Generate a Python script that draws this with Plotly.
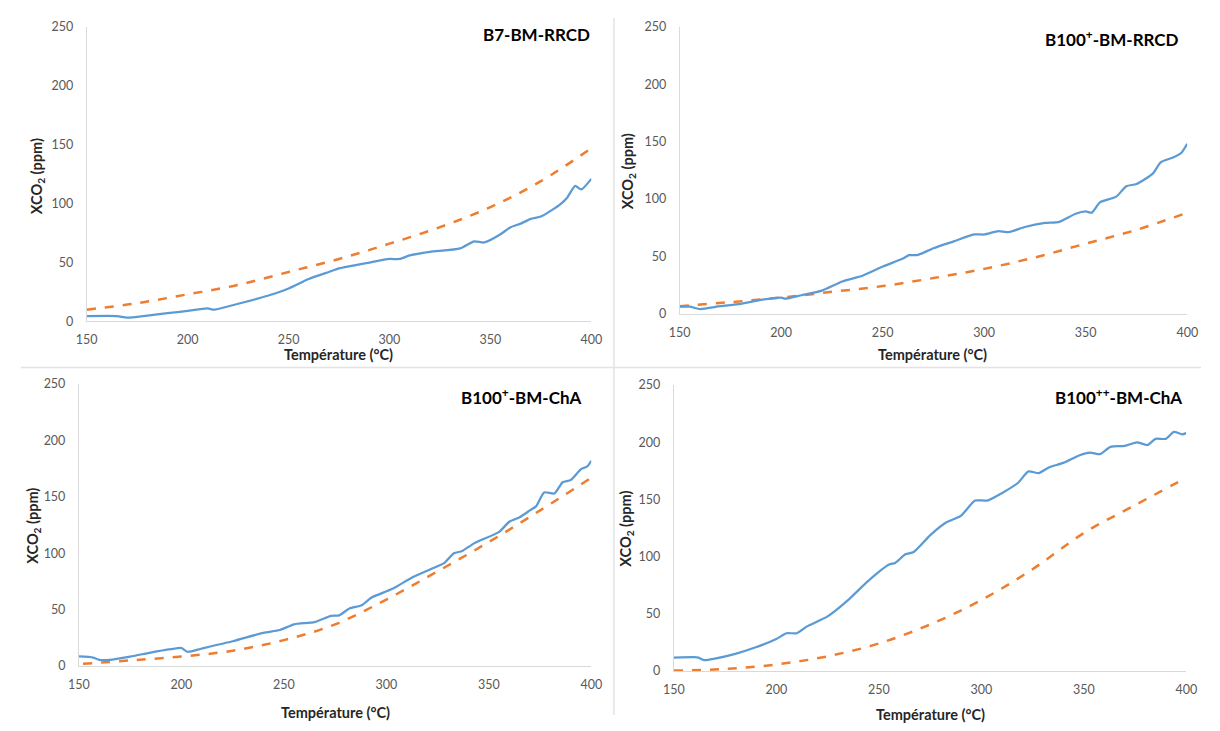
import plotly.graph_objects as go

# ---------------- data ----------------
# Panel 1: B7-BM-RRCD
p1_blue_x = [150, 165, 170, 180, 190, 200, 210, 213, 225, 240, 250, 260, 270, 275, 290, 300, 305, 310, 320, 335, 342, 347, 355, 360, 365, 370, 375, 380, 385, 388, 392, 395, 400]
p1_blue_y = [4.5, 4.5, 3.2, 5, 7, 9, 11, 10, 15, 22, 28, 36, 42, 45, 50, 53, 53, 56, 59, 62, 68, 67, 74, 80, 83, 87, 89, 94, 100, 105, 115, 112, 121]
p1_orange_x = [150, 175, 200, 225, 250, 275, 300, 325, 350, 375, 400]
p1_orange_y = [10, 15.5, 23, 31, 42, 53, 66, 80, 97, 119, 147]

# Panel 2: B100+-BM-RRCD
p2_blue_x = [150, 155, 160, 170, 180, 190, 200, 202, 210, 220, 230, 240, 250, 260, 263, 267, 275, 285, 295, 300, 307, 312, 320, 330, 337, 345, 350, 353, 357, 365, 370, 375, 383, 387, 393, 397, 400]
p2_blue_y = [6, 6, 4, 6.5, 8.5, 12, 14, 13, 16, 20, 28, 33, 41, 48, 51, 51, 57, 63, 69, 69, 72, 71, 75.5, 79, 80, 87, 89, 88, 97, 102, 111, 113, 122, 132, 136, 140, 148]
p2_orange_x = [150, 175, 200, 225, 250, 275, 300, 325, 350, 375, 400]
p2_orange_y = [6.5, 10, 14, 19, 24, 31, 39, 49, 61, 73, 88]

# Panel 3: B100+-BM-ChA
p3_blue_x = [150, 157, 160, 165, 175, 185, 195, 200, 203, 210, 225, 240, 248, 255, 265, 273, 277, 282, 288, 293, 303, 313, 323, 328, 333, 337, 343, 355, 360, 365, 370, 373, 377, 382, 386, 390, 395, 398, 400]
p3_blue_y = [8.5, 7.5, 5.5, 5.5, 8.4, 12, 15, 16, 12.7, 15.6, 22, 29.5, 32, 37, 39, 44.5, 45, 51, 54, 61, 68.5, 79, 87, 91, 100, 102, 109, 119, 128, 132, 138, 141.6, 154, 153, 163, 165, 174.6, 177, 182]
p3_orange_x = [152, 175, 200, 225, 250, 275, 300, 325, 350, 375, 400]
p3_orange_y = [2, 5, 8.4, 13.6, 23, 37, 59, 84, 110, 138, 167]

# Panel 4: B100++-BM-ChA
p4_blue_x = [150, 160, 162, 165, 170, 180, 190, 200, 205, 210, 215, 225, 235, 245, 255, 258, 263, 267, 275, 283, 290, 297, 303, 310, 318, 323, 328, 333, 340, 348, 353, 358, 363, 370, 376, 381, 385, 390, 394, 398, 400]
p4_blue_y = [11.6, 12, 11.6, 9.4, 10.8, 15, 20.7, 28, 33, 33, 39, 47.7, 62, 79, 93, 94.5, 102, 104, 118.6, 130, 135.6, 149, 149, 155.5, 164.6, 174.5, 173, 178, 182, 188.7, 191, 189.6, 196, 196.8, 200, 197.6, 203, 203, 209, 207, 208]
p4_orange_x = [150, 175, 200, 225, 250, 275, 300, 325, 350, 375, 400]
p4_orange_y = [0.3, 1.7, 5.7, 12.8, 24, 40.6, 62, 89, 120.6, 145, 169]

titles = ["B7-BM-RRCD", "B100<sup>+</sup>-BM-RRCD", "B100<sup>+</sup>-BM-ChA", "B100<sup>++</sup>-BM-ChA"]
x_ticks = [150, 200, 250, 300, 350, 400]
y_ticks = [0, 50, 100, 150, 200, 250]

# ---------------- layout geometry ----------------
# The page body keeps its default 8 px margin, so the figure is drawn 16 px
# smaller and every reference pixel position is shifted by OFF.
OFF = 8
W, H = 1220 - 2 * OFF, 731 - 2 * OFF
# (x_left_px, x_right_px, y_bottom_px, y_top_px) in reference pixels
boxes = [(77, 591, 320, 19), (681, 1198, 312, 19), (69, 591, 672, 384), (675, 1197, 677, 385)]
title_pos = [(592, 27), (1192, 31), (583, 397), (1195, 397)]
xtitle_pos = [(333, 354), (939, 354), (330, 719), (936, 721)]
ytitle_pos = [(27, 172), (629, 167), (22, 529), (626, 532)]


def px(x):
    return (x - OFF) / W


def py(y):
    return 1 - (y - OFF) / H


BLUE = "#5B9BD5"
ORANGE = "#ED7D31"
FONT = "Lato, Carlito, 'Open Sans', sans-serif"

series = [
    (p1_blue_x, p1_blue_y, p1_orange_x, p1_orange_y),
    (p2_blue_x, p2_blue_y, p2_orange_x, p2_orange_y),
    (p3_blue_x, p3_blue_y, p3_orange_x, p3_orange_y),
    (p4_blue_x, p4_blue_y, p4_orange_x, p4_orange_y),
]

fig = go.Figure()
layout = dict(
    width=W, height=H, margin=dict(l=0, r=0, t=0, b=0),
    paper_bgcolor="white", plot_bgcolor="white", showlegend=False,
    font=dict(family=FONT, color="#595959", size=12.5),
)
annotations = []
for i, (bx, by, ox, oy) in enumerate(series):
    n = "" if i == 0 else str(i + 1)
    xa, ya = "x" + n, "y" + n
    fig.add_trace(go.Scatter(x=ox, y=oy, mode="lines", xaxis=xa, yaxis=ya, cliponaxis=False,
                             line=dict(color=ORANGE, width=2.5, dash="dash", shape="spline")))
    fig.add_trace(go.Scatter(x=bx, y=by, mode="lines", xaxis=xa, yaxis=ya, cliponaxis=False,
                             line=dict(color=BLUE, width=2.25, shape="spline", smoothing=0.6)))
    xl, xr, yb, yt = boxes[i]
    layout["xaxis" + n] = dict(
        domain=[px(xl), px(xr)], range=[150, 400], tickvals=x_ticks, anchor=ya,
        showline=True, linecolor="#d9d9d9", linewidth=1, showgrid=False, zeroline=False,
        ticks="", ticklabelstandoff=7, tickfont=dict(size=12.5, color="#595959"), fixedrange=True,
    )
    layout["yaxis" + n] = dict(
        domain=[py(yb), py(yt)], range=[0, 250], tickvals=y_ticks, anchor=xa,
        showline=True, linecolor="#d9d9d9", linewidth=1, showgrid=False, zeroline=False,
        ticks="", ticklabelstandoff=10, tickfont=dict(size=12.5, color="#595959"), fixedrange=True,
    )
    tx, ty = title_pos[i]
    annotations.append(dict(text="<b>" + titles[i] + "</b>", x=px(tx), y=py(ty), xref="paper", yref="paper",
                            xanchor="right", yanchor="middle", showarrow=False,
                            font=dict(size=17, color="#000000", family=FONT)))
    xx, xy = xtitle_pos[i]
    annotations.append(dict(text="<b>Température (°C)</b>", x=px(xx), y=py(xy), xref="paper", yref="paper",
                            xanchor="center", yanchor="middle", showarrow=False,
                            font=dict(size=14.5, color="#262626", family=FONT)))
    yx, yy = ytitle_pos[i]
    annotations.append(dict(text="<b>XCO<sub>2</sub> (ppm)</b>", x=px(yx), y=py(yy), xref="paper", yref="paper",
                            xanchor="center", yanchor="middle", textangle=-90, showarrow=False,
                            font=dict(size=14.5, color="#262626", family=FONT)))

layout["annotations"] = annotations
layout["shapes"] = [
    dict(type="line", xref="paper", yref="paper", x0=px(10), x1=px(1212), y0=py(367), y1=py(367),
         line=dict(color="#e3e3e3", width=1.5)),
    dict(type="line", xref="paper", yref="paper", x0=px(614), x1=px(614), y0=py(10), y1=py(722),
         line=dict(color="#e3e3e3", width=1.5)),
]
fig.update_layout(**layout)
fig.write_html("out.html", config={"displayModeBar": False})
